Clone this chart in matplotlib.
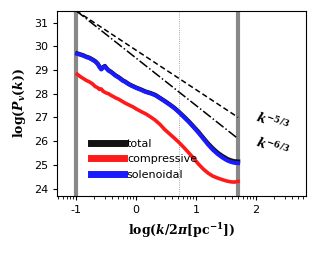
import numpy as np
import matplotlib
matplotlib.use('Agg')
import matplotlib.pyplot as plt

plt.rcParams['mathtext.fontset'] = 'custom'
plt.rcParams['mathtext.rm'] = 'DejaVu Serif:bold'
plt.rcParams['mathtext.it'] = 'DejaVu Serif:italic:bold'
plt.rcParams['mathtext.bf'] = 'DejaVu Serif:bold'

# log10(k/2pi) sample points
logk = [-0.98, -0.93, -0.88, -0.83, -0.78, -0.73, -0.68, -0.64, -0.61, -0.58,
        -0.55, -0.52, -0.49, -0.46, -0.42, -0.38, -0.34, -0.30, -0.26, -0.22,
        -0.18, -0.14, -0.10, -0.05, 0.0, 0.08, 0.16, 0.24, 0.32, 0.40, 0.48,
        0.56, 0.64, 0.72, 0.80, 0.88, 0.96, 1.04, 1.12, 1.20, 1.28, 1.36,
        1.44, 1.52, 1.58, 1.64, 1.70]

solenoidal = [29.68, 29.64, 29.60, 29.54, 29.50, 29.43, 29.35, 29.25, 29.12, 29.02,
              29.10, 29.15, 29.05, 28.97, 28.91, 28.83, 28.75, 28.69, 28.62, 28.54,
              28.49, 28.42, 28.36, 28.30, 28.24, 28.16, 28.07, 28.01, 27.93, 27.80,
              27.67, 27.53, 27.38, 27.20, 27.00, 26.80, 26.58, 26.35, 26.10, 25.85,
              25.63, 25.45, 25.30, 25.18, 25.12, 25.08, 25.07]

total = [29.70, 29.66, 29.62, 29.56, 29.52, 29.45, 29.37, 29.27, 29.14, 29.04,
         29.12, 29.17, 29.07, 28.99, 28.93, 28.85, 28.77, 28.71, 28.64, 28.56,
         28.51, 28.44, 28.38, 28.32, 28.26, 28.18, 28.09, 28.03, 27.95, 27.82,
         27.69, 27.55, 27.40, 27.22, 27.03, 26.83, 26.61, 26.39, 26.14, 25.90,
         25.69, 25.51, 25.37, 25.25, 25.19, 25.15, 25.14]

compressive = [28.82, 28.72, 28.64, 28.56, 28.50, 28.42, 28.30, 28.25, 28.18, 28.20,
               28.10, 28.06, 28.02, 28.00, 27.93, 27.88, 27.82, 27.78, 27.72, 27.66,
               27.60, 27.55, 27.50, 27.44, 27.36, 27.25, 27.15, 27.02, 26.88, 26.70,
               26.48, 26.30, 26.12, 25.93, 25.72, 25.50, 25.27, 25.03, 24.82, 24.65,
               24.52, 24.44, 24.37, 24.31, 24.28, 24.27, 24.30]

# reference power laws
ref_x = [-1.0, 1.7]
ref_amp = 31.5
slope_53 = -5.0 / 3.0
slope_63 = -6.0 / 3.0

k_min, k_max, k_mid = -1.0, 1.7, 0.72

fig = plt.figure(figsize=(3.17, 2.54), dpi=100)
ax = fig.add_axes([0.18, 0.228, 0.785, 0.729])

ax.axvline(k_min, color='#888888', lw=3, zorder=1)
ax.axvline(k_max, color='#888888', lw=3, zorder=1)
ax.axvline(k_mid, color='#888888', lw=0.6, ls=':', zorder=1)

rx = np.array(ref_x)
ax.plot(rx, ref_amp + slope_53 * (rx - rx[0]), 'k--', lw=1.1, dashes=(3.5, 2))
ax.plot(rx, ref_amp + slope_63 * (rx - rx[0]), 'k-.', lw=1.1)

ax.plot(logk, total, color='#111111', lw=3.0, label='total', zorder=3)
ax.plot(logk, compressive, color='#ff1a1a', lw=2.6, label='compressive', zorder=4)
ax.plot(logk, solenoidal, color='#1a1aff', lw=2.9, label='solenoidal', zorder=5)

ax.text(2.27, 26.8, r'$k^{-5/3}$', rotation=-20, ha='center', va='center', fontsize=9)
ax.text(2.27, 25.75, r'$k^{-6/3}$', rotation=-20, ha='center', va='center', fontsize=9)

ax.set_xlim(-1.317, 2.83)
ax.set_ylim(23.68, 31.49)
ax.set_xticks([-1, 0, 1, 2])
ax.set_xticklabels(['-1', '0', '1', '2'])
minor = [n + np.log10(m) for n in range(-2, 3) for m in range(2, 10)]
ax.set_xticks([v for v in minor if -1.317 < v < 2.83], minor=True)
ax.set_yticks([24, 25, 26, 27, 28, 29, 30, 31])
ax.tick_params(labelsize=8, length=3, width=0.8)
ax.tick_params(which='minor', length=2, width=0.6)

ax.set_xlabel(r'$\log(k/2\pi[\mathrm{pc}^{-1}])$', fontsize=9)
ax.set_ylabel(r'$\log(P_{v}(k))$', fontsize=9)

leg = ax.legend(loc='upper left', bbox_to_anchor=(0.12, 0.335), frameon=False,
                fontsize=8, handlelength=2.9, handletextpad=0.3,
                labelspacing=0.5, borderaxespad=0)
for line in leg.get_lines():
    line.set_linewidth(5.0)

plt.savefig('out.png', dpi=100)
